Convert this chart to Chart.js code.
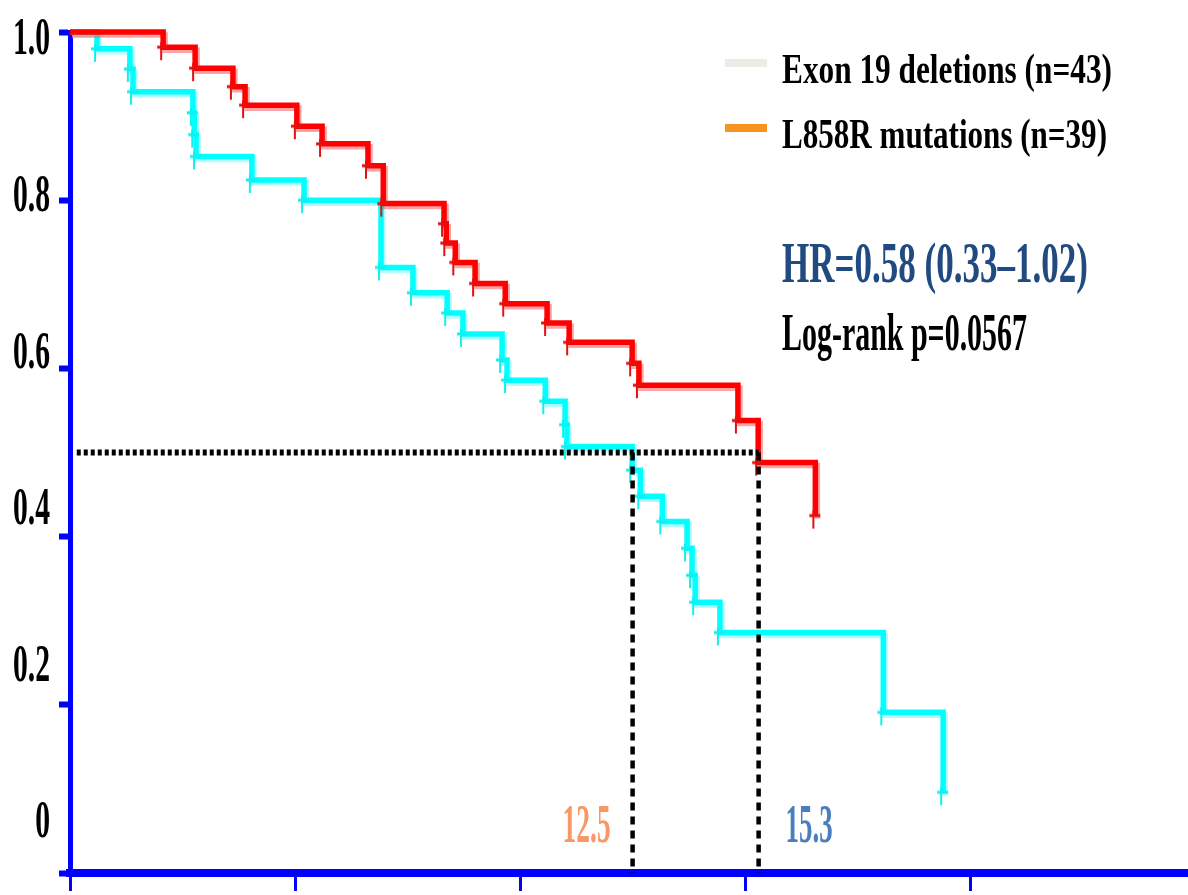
<!DOCTYPE html>
<html>
<head>
<meta charset="utf-8">
<script src="https://cdn.jsdelivr.net/npm/chart.js@4.4.1/dist/chart.umd.min.js"></script>
<style>
  html, body { margin: 0; padding: 0; background: #ffffff; overflow: hidden; }
  canvas { display: block; }
</style>
</head>
<body>
<canvas id="km" width="1188" height="895"></canvas>
<script>
// Kaplan-Meier curves: time (months) and survival probability after each event
const redTimes     = [0, 2.07, 2.78, 3.62, 3.89, 5.04, 5.6, 6.62, 6.96, 8.31, 8.36, 8.56, 9.0, 9.67, 10.6, 11.09, 12.49, 12.64, 14.84, 15.29, 16.56];
const redSurvival  = [1.0, 0.982, 0.957, 0.935, 0.913, 0.888, 0.867, 0.841, 0.796, 0.772, 0.749, 0.726, 0.701, 0.677, 0.654, 0.631, 0.606, 0.580, 0.538, 0.488, 0.425];
const cyanTimes    = [0, 0.6, 1.33, 1.4, 2.73, 2.76, 2.8, 4.04, 5.2, 6.91, 7.62, 8.38, 8.73, 9.6, 9.71, 10.56, 11.0, 11.04, 12.49, 12.67, 13.16, 13.71, 13.82, 13.89, 14.44, 18.07, 19.4];
const cyanSurvival = [1.0, 0.980, 0.956, 0.929, 0.904, 0.878, 0.852, 0.824, 0.800, 0.720, 0.690, 0.666, 0.641, 0.610, 0.586, 0.561, 0.533, 0.507, 0.479, 0.448, 0.418, 0.386, 0.354, 0.322, 0.286, 0.191, 0.096];

// Median survival guides
const medianLevel = 0.5;
const medianStart = 0.15;
const medianTimes = [12.5, 15.3];
const medianLabels = ['12.5', '15.3'];

// Axes
const yTickValues = [0, 0.2, 0.4, 0.6, 0.8, 1.0];
const yTickLabels = ['0', '0.2', '0.4', '0.6', '0.8', '1.0'];
const xTickStep = 5;
const xMax = 24.84;

// Legend and statistics
const legendLabels = ['Exon 19 deletions (n=43)', 'L858R mutations (n=39)'];
const legendColors = ['#ecece6', '#f7941d'];
const hrText = 'HR=0.58 (0.33\u20131.02)';
const pText = 'Log-rank p=0.0567';

const toPoints = (ts, vs) => ts.map((t, i) => ({ x: t, y: vs[i] }));

// "+" censor mark, vertical stroke hanging below the step level
function makeMark(color) {
  const c = document.createElement('canvas');
  c.width = 14; c.height = 34;
  const g = c.getContext('2d');
  g.fillStyle = color;
  g.fillRect(1, 15.5, 11, 3);
  g.fillRect(4, 12, 2, 18);
  return c;
}

const SERIF = '"Liberation Serif", "Times New Roman", serif';

function condensedText(ctx, text, x, baseline, size, color, targetWidth, align) {
  ctx.save();
  ctx.font = 'bold ' + size + 'px ' + SERIF;
  ctx.fillStyle = color;
  ctx.textBaseline = 'alphabetic';
  ctx.textAlign = align || 'left';
  const w = ctx.measureText(text).width;
  const sx = typeof targetWidth === 'number' ? targetWidth / w : 0.57;
  ctx.translate(x, baseline);
  ctx.scale(sx, 1);
  ctx.fillText(text, 0, 0);
  ctx.restore();
}

const shadowPlugin = {
  id: 'stepShadow',
  beforeDatasetDraw(chart, args) {
    const ds = chart.data.datasets[args.index];
    if (ds.shadowTint) {
      chart.ctx.save();
      chart.ctx.shadowColor = ds.shadowTint;
      chart.ctx.shadowOffsetX = 2;
      chart.ctx.shadowOffsetY = 3;
      chart.ctx.shadowBlur = 0;
    }
  },
  afterDatasetDraw(chart, args) {
    const ds = chart.data.datasets[args.index];
    if (ds.shadowTint) chart.ctx.restore();
  }
};

const annotationPlugin = {
  id: 'kmText',
  afterDraw(chart) {
    const ctx = chart.ctx;
    const yl = chart.scales.yLabels;
    yTickValues.forEach((v, i) => {
      const y = yl.getPixelForValue(v);
      condensedText(ctx, yTickLabels[i], 50, y + 17.5, 52, '#000000', null, 'right');
    });

    // legend
    const rows = [83, 148];
    legendLabels.forEach((label, i) => {
      ctx.fillStyle = legendColors[i];
      ctx.fillRect(725, rows[i] - 24, 42, 8);
      condensedText(ctx, label, 782, rows[i], 42, '#000000', i === 0 ? 330 : 325);
    });

    condensedText(ctx, hrText, 782, 282, 58, '#214a80', 306);
    condensedText(ctx, pText, 782, 350, 53, '#000000', 245);

    const xs = chart.scales.x;
    condensedText(ctx, medianLabels[0], xs.getPixelForValue(medianTimes[0]) - 22, 842, 55, '#f79866', 48, 'right');
    condensedText(ctx, medianLabels[1], xs.getPixelForValue(medianTimes[1]) + 27, 842, 55, '#4a7ebf', 47, 'left');
  }
};

const guide = (pts, width, dash) => ({
  type: 'line', data: pts, borderColor: '#000000', borderWidth: width,
  borderDash: dash, pointRadius: 0, fill: false, clip: false, order: 0
});

new Chart(document.getElementById('km'), {
  type: 'line',
  data: {
    datasets: [
      guide([{ x: medianStart, y: medianLevel }, { x: medianTimes[1], y: medianLevel }], 6, [4, 3]),
      guide([{ x: medianTimes[0], y: medianLevel }, { x: medianTimes[0], y: 0 }], 4.5, [8, 6]),
      guide([{ x: medianTimes[1], y: medianLevel }, { x: medianTimes[1], y: 0 }], 4.5, [8, 6]),
      {
        type: 'line', label: 'red censored', data: toPoints(redTimes.slice(1), redSurvival.slice(1)),
        showLine: false, pointStyle: makeMark('#e41010'), pointRadius: 8, clip: false, order: 1
      },
      {
        type: 'line', label: 'red', data: toPoints(redTimes, redSurvival),
        stepped: true, borderColor: '#ff0000', borderWidth: 5.5, pointRadius: 0,
        fill: false, clip: false, order: 2, shadowTint: 'rgba(255, 90, 90, 0.55)'
      },
      {
        type: 'line', label: 'cyan censored', data: toPoints(cyanTimes.slice(1), cyanSurvival.slice(1)),
        showLine: false, pointStyle: makeMark('#10f0f0'), pointRadius: 8, clip: false, order: 3
      },
      {
        type: 'line', label: 'cyan', data: toPoints(cyanTimes, cyanSurvival),
        stepped: true, borderColor: '#00ffff', borderWidth: 5.5, pointRadius: 0,
        fill: false, clip: false, order: 4, shadowTint: 'rgba(120, 255, 255, 0.6)'
      }
    ]
  },
  options: {
    responsive: false,
    animation: false,
    devicePixelRatio: 1,
    layout: { autoPadding: false, padding: { top: 32, left: 0, right: 0, bottom: 0 } },
    plugins: { legend: { display: false }, tooltip: { enabled: false } },
    scales: {
      x: {
        type: 'linear', position: 'bottom', min: 0, max: xMax,
        ticks: { stepSize: xTickStep, display: false, includeBounds: false },
        grid: { drawOnChartArea: false, drawTicks: true, tickLength: 18, tickWidth: 3, tickColor: '#0000ff' },
        border: { display: true, color: '#0000ff', width: 8 },
        afterFit: s => { s.height = 22; }
      },
      y: {
        type: 'linear', position: 'left', min: 0, max: 1,
        ticks: { stepSize: 0.2, display: false },
        grid: { drawOnChartArea: false, drawTicks: true, tickLength: 11, tickWidth: 6, tickColor: '#0000ff' },
        border: { display: true, color: '#0000ff', width: 5 },
        afterFit: s => { s.width = 70; }
      },
      yLabels: {
        type: 'linear', position: 'left', min: -0.0677, max: 1.0063,
        ticks: { display: false }, grid: { display: false }, border: { display: false },
        afterFit: s => { s.width = 0; }
      }
    }
  },
  plugins: [shadowPlugin, annotationPlugin]
});
</script>
</body>
</html>
